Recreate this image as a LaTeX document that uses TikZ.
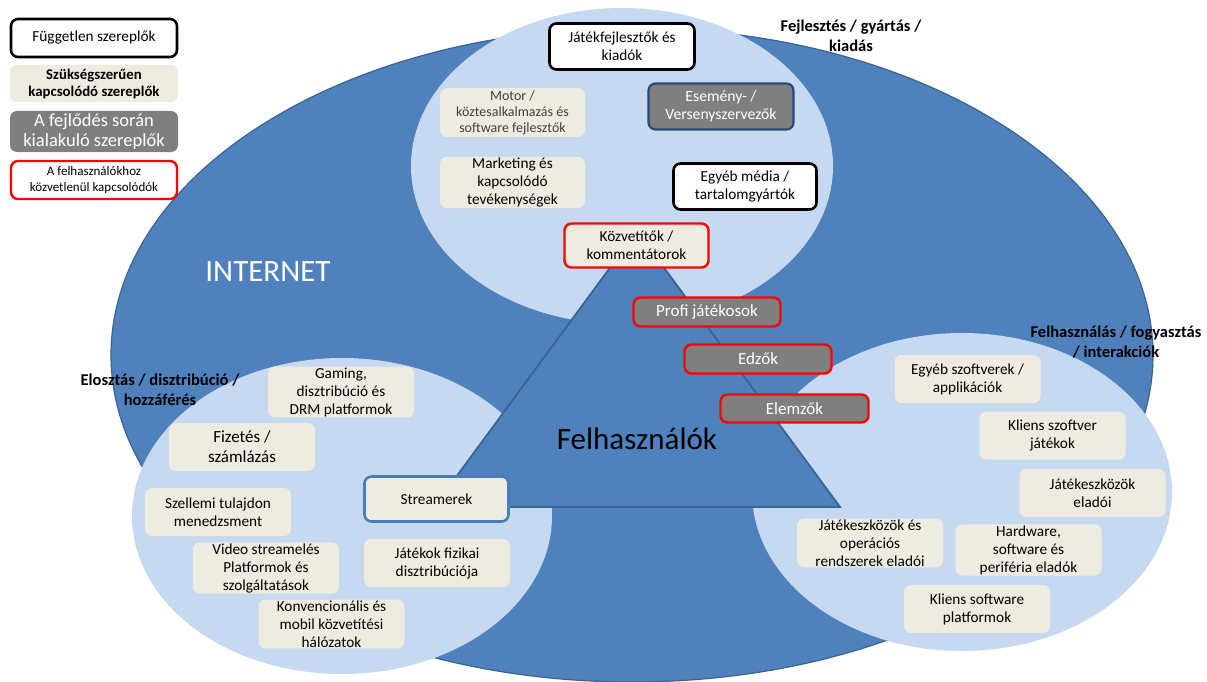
\documentclass[tikz,border=0pt]{standalone}
\usepackage{fontspec}
\setmainfont{Carlito}
\definecolor{bigblue}{HTML}{4F81BD}
\definecolor{edgeblue}{HTML}{3A6494}
\definecolor{lightblue}{HTML}{C6D9F0}
\definecolor{beige}{HTML}{EEECE1}
\definecolor{boxgray}{HTML}{7F7F7F}
\definecolor{navy}{HTML}{264A7A}
\definecolor{streamb}{HTML}{4A7EBB}
\definecolor{motortext}{HTML}{404040}
\begin{document}
\begin{tikzpicture}[x=1pt,y=-1pt,
  actor/.style={rounded corners=7pt, align=center, inner sep=1pt,
    minimum width=146pt, minimum height=48pt,
    font=\fontsize{15.3}{18}\selectfont},
  indep/.style={actor, fill=white, draw=black, line width=2.6pt},
  need/.style={actor, fill=beige},
  evol/.style={actor, fill=boxgray, text=white},
  redb/.style={draw=red, line width=2.4pt},
  heading/.style={align=center, font=\bfseries\fontsize{16.5}{20.5}\selectfont},
  bigtext/.style={font=\fontsize{31}{36}\selectfont},
  circ/.style={fill=lightblue, draw=none},
]
\useasboundingbox (0,0) rectangle (1207,682);
\fill[white] (0,0) rectangle (1207,682);

% big ellipse (internet)
\draw[fill=bigblue, draw=edgeblue, line width=1.2pt] (632,355) ellipse [x radius=521, y radius=327];
% three light circles
\fill[circ] (622,166) ellipse [x radius=211, y radius=158];
\fill[circ] (342,516) ellipse [x radius=210, y radius=158];
\fill[circ] (962,492) ellipse [x radius=210, y radius=159];
% triangle (users)
\draw[fill=bigblue, draw=edgeblue, line width=1.8pt, line join=miter] (637,231) -- (840,507) -- (434,507) -- cycle;

% legend
\node[indep, minimum width=166pt, minimum height=38pt] (lg1) at (94,38) {Független szereplők};
\node[need, minimum width=168pt, minimum height=37pt, font=\bfseries\fontsize{14.8}{17}\selectfont] (lg2) at (94,83.5) {Szükségszerűen\\kapcsolódó szereplők};
\node[evol, minimum width=168pt, minimum height=41pt, font=\fontsize{18.5}{20}\selectfont] (lg3) at (94,131.5) {A fejlődés során\\kialakuló szereplők};
\node[actor, fill=white, redb, minimum width=166pt, minimum height=38pt, font=\fontsize{13}{16}\selectfont] (lg4) at (94,180) {A felhasználókhoz\\közvetlenül kapcsolódók};

% headings
\node[heading] (hfejl) at (851,36) {Fejlesztés / gyártás /\\kiadás};
\node[heading] (helo) at (160,390) {Elosztás / disztribúció /\\hozzáférés};
\node[heading] (hfelh) at (1116,342) {Felhasználás / fogyasztás\\/ interakciók};

\node[bigtext, text=white, anchor=base] (internet) at (268,281) {INTERNET};
\node[bigtext, text=black, anchor=base] (users) at (637,449) {Felhasználók};

% top circle
\node[indep, minimum width=145pt, minimum height=46pt] (jatek) at (622,46.5) {Játékfejlesztők és\\kiadók};
\node[need, minimum width=145pt, minimum height=49pt, text=motortext, font=\fontsize{14}{16}\selectfont] (motor) at (512.5,112.5) {Motor /\\köztesalkalmazás és\\software fejlesztők};
\node[evol, draw=navy, line width=2.2pt, minimum width=145pt, minimum height=46pt, font=\fontsize{15.7}{18}\selectfont] (esem) at (721,106.5) {Esemény- /\\Versenyszervezők};
\node[need, minimum width=145pt, minimum height=49pt] (mark) at (512.5,182.5) {Marketing és\\kapcsolódó\\tevékenységek};
\node[indep, minimum width=143pt, minimum height=46pt] (media) at (745,186.5) {Egyéb média /\\tartalomgyártók};
\node[need, redb, minimum width=144pt, minimum height=44pt] (kozv) at (636.5,245.5) {Közvetítők /\\kommentátorok};

% red-bordered users
\node[evol, redb, minimum width=147pt, minimum height=29pt, font=\fontsize{17}{18}\selectfont] (profi) at (707,312) {Profi játékosok};
\node[evol, redb, minimum width=147pt, minimum height=29pt, font=\fontsize{17}{18}\selectfont] (edzo) at (758,359) {Edzők};
\node[evol, redb, minimum width=148pt, minimum height=28pt, font=\fontsize{17}{18}\selectfont] (elem) at (794.5,408.5) {Elemzők};

% left circle
\node[need] (gaming) at (341,392) {Gaming,\\disztribúció és\\DRM platformok};
\node[need, font=\fontsize{17}{20}\selectfont] (fizet) at (242,447) {Fizetés /\\számlázás};
\node[need] (szell) at (218,512) {Szellemi tulajdon\\menedzsment};
\node[need, draw=streamb, line width=2.6pt, minimum width=144pt, minimum height=45pt] (stream) at (436.5,499) {Streamerek};
\node[need] (video) at (266,568) {Video streamelés\\Platformok és\\szolgáltatások};
\node[need] (fizikai) at (437,563) {Játékok fizikai\\disztribúciója};
\node[need] (konv) at (331.5,624) {Konvencionális és\\mobil közvetítési\\hálózatok};

% right circle
\node[need] (egysz) at (967.5,379) {Egyéb szoftverek /\\applikációk};
\node[need] (kliensj) at (1052.5,435.5) {Kliens szoftver\\játékok};
\node[need] (eszk) at (1092.5,493) {Játékeszközök\\eladói};
\node[need] (eszkop) at (870,543) {Játékeszközök és\\operációs\\rendszerek eladói};
\node[need] (hard) at (1028.5,550) {Hardware,\\software és\\periféria eladók};
\node[need] (klienspl) at (977,609) {Kliens software\\platformok};
\end{tikzpicture}
\end{document}
